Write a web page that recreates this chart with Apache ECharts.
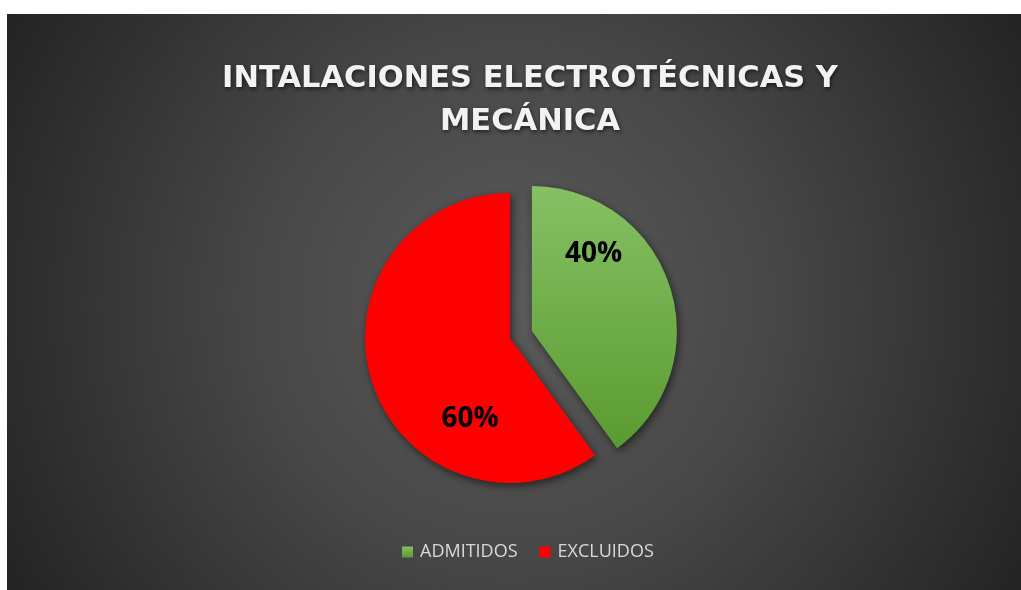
<!DOCTYPE html>
<html>
<head>
<meta charset="utf-8">
<script src="https://cdn.jsdelivr.net/npm/echarts@6/dist/echarts.min.js"></script>
<style>
  html, body { margin: 0; padding: 0; background: #ffffff; }
  #chart { position: absolute; left: 7px; top: 14px; width: 1014px; height: 576px; }
</style>
</head>
<body>
<div id="chart"></div>
<script>
const titleText = 'INTALACIONES ELECTROTÉCNICAS Y\nMECÁNICA';
const categories = ['ADMITIDOS', 'EXCLUIDOS'];
const values = [40, 60];

const chart = echarts.init(document.getElementById('chart'));

// label nudges (Excel "best fit" puts them off the mid-angle)
const labelShift = [[-10, -54], [32, 58]];

const sliceColors = [
  { type: 'linear', x: 0, y: 0, x2: 0, y2: 1,
    colorStops: [{ offset: 0, color: '#86c064' }, { offset: 1, color: '#5a9b30' }] },
  '#ff0000'
];

const option = {
  backgroundColor: {
    type: 'radial', x: 0.5, y: 0.5, r: 1,
    colorStops: [
      { offset: 0, color: '#5b5b5b' },
      { offset: 0.45, color: '#474747' },
      { offset: 1, color: '#242424' }
    ]
  },
  title: {
    text: titleText,
    left: 518,
    top: 39,
    textAlign: 'center',
    textStyle: {
      fontFamily: 'DejaVu Sans',
      fontWeight: 'bold',
      fontSize: 30.5,
      lineHeight: 43,
      color: '#f2f2f2',
      textShadowColor: 'rgba(0,0,0,0.6)',
      textShadowBlur: 4,
      textShadowOffsetX: 1,
      textShadowOffsetY: 2
    }
  },
  legend: {
    data: categories,
    left: 390,
    top: 524,
    icon: 'rect',
    itemWidth: 11,
    itemHeight: 11,
    itemGap: 22,
    itemStyle: { borderWidth: 0 },
    textStyle: { color: '#d9d9d9', fontSize: 18, fontFamily: 'Open Sans', padding: [0, 0, 0, 2] }
  },
  series: [{
    type: 'pie',
    center: [503, 324],
    radius: 145,
    startAngle: 90,
    clockwise: true,
    selectedMode: 'multiple',
    selectedOffset: 23,
    animation: false,
    emphasis: { disabled: true },
    itemStyle: {
      shadowColor: 'rgba(0,0,0,0.55)',
      shadowBlur: 8,
      shadowOffsetX: 2,
      shadowOffsetY: 3
    },
    label: {
      show: true,
      position: 'inside',
      formatter: '{d}%',
      color: '#000000',
      fontFamily: 'Open Sans',
      fontWeight: 'bold',
      fontSize: 28
    },
    labelLayout: function (p) {
      return { dx: labelShift[p.dataIndex][0], dy: labelShift[p.dataIndex][1] };
    },
    data: categories.map((name, i) => ({
      name: name,
      value: values[i],
      selected: i === 0,
      itemStyle: { color: sliceColors[i] }
    }))
  }]
};

chart.setOption(option);
</script>
</body>
</html>
